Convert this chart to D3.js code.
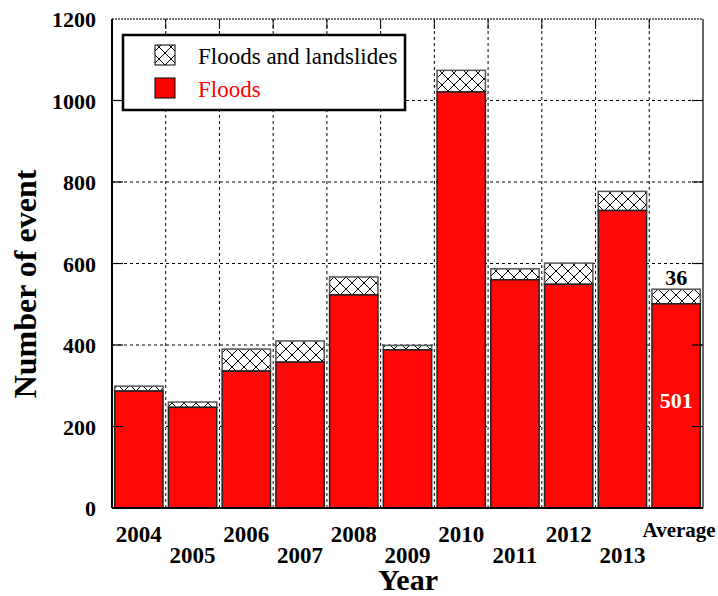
<!DOCTYPE html>
<html>
<head>
<meta charset="utf-8">
<script src="https://cdn.jsdelivr.net/npm/d3@7"></script>
<style>
  body { margin: 0; background: #fff; }
  text { font-family: "Liberation Serif", "Times New Roman", serif; }
</style>
</head>
<body>
<div id="chart"></div>
<script>
// Data
const years = ['2004', '2005', '2006', '2007', '2008', '2009', '2010', '2011', '2012', '2013', 'Average'];
const floods = [287, 247, 336, 358, 523, 388, 1021, 560, 549, 730, 501];
const floodsLandslides = [12, 13, 54, 52, 44, 11, 53, 27, 52, 47, 36];
const yTicks = [0, 200, 400, 600, 800, 1000, 1200];

const margin = { top: 19, right: 15, bottom: 88, left: 112 };
const width = 718 - margin.left - margin.right;
const height = 596 - margin.top - margin.bottom;

const svg = d3.select('#chart').append('svg')
    .attr('width', 718)
    .attr('height', 596);

// cross hatch pattern
const defs = svg.append('defs');
const pat = defs.append('pattern')
    .attr('id', 'hatch')
    .attr('patternUnits', 'userSpaceOnUse')
    .attr('width', 12)
    .attr('height', 12);
pat.append('rect').attr('width', 12).attr('height', 12).attr('fill', '#fff');
pat.append('path')
    .attr('d', 'M0,0L12,12M12,0L0,12')
    .attr('stroke', '#000')
    .attr('stroke-width', 1);

const g = svg.append('g')
    .attr('transform', `translate(${margin.left},${margin.top})`);

const xScale = d3.scaleBand()
    .domain(years)
    .range([0, width])
    .paddingInner(0.1)
    .paddingOuter(0.05);

const yScale = d3.scaleLinear()
    .domain([0, 1200])
    .range([height, 0]);

// horizontal grid
g.selectAll('.hgrid')
    .data(yTicks.slice(1, -1))
    .enter()
    .append('line')
    .attr('x1', 0)
    .attr('x2', width)
    .attr('y1', d => yScale(d))
    .attr('y2', d => yScale(d))
    .attr('stroke', '#000')
    .attr('stroke-dasharray', '3,3');

// vertical grid between bars
const step = xScale.step();
const bounds = years.slice(1).map(d => xScale(d) - step * xScale.paddingInner() / 2);
g.selectAll('.vgrid')
    .data(bounds)
    .enter()
    .append('line')
    .attr('x1', d => d)
    .attr('x2', d => d)
    .attr('y1', 0)
    .attr('y2', height)
    .attr('stroke', '#000')
    .attr('stroke-dasharray', '3,3');

// top ticks at band boundaries
g.selectAll('.ttick')
    .data(bounds)
    .enter()
    .append('line')
    .attr('x1', d => d)
    .attr('x2', d => d)
    .attr('y1', 0)
    .attr('y2', 10)
    .attr('stroke', '#000');

// bars
const bars = g.selectAll('.bar')
    .data(years.map((y, i) => ({ year: y, floods: floods[i], fl: floodsLandslides[i] })))
    .enter()
    .append('g');

bars.append('rect')
    .attr('x', d => xScale(d.year))
    .attr('y', d => yScale(d.floods + d.fl))
    .attr('width', xScale.bandwidth())
    .attr('height', d => yScale(d.floods) - yScale(d.floods + d.fl))
    .attr('fill', 'url(#hatch)')
    .attr('stroke', '#555')
    .attr('stroke-width', 1.5);

bars.append('rect')
    .attr('x', d => xScale(d.year))
    .attr('y', d => yScale(d.floods))
    .attr('width', xScale.bandwidth())
    .attr('height', d => height - yScale(d.floods))
    .attr('fill', '#fe0808')
    .attr('stroke', '#222')
    .attr('stroke-width', 1.5);

// frame
g.append('line').attr('x1', 0).attr('x2', width).attr('y1', 0).attr('y2', 0)
    .attr('stroke', '#444').attr('stroke-width', 1.5).attr('stroke-dasharray', '2,1');
g.append('line').attr('x1', 0).attr('x2', 0).attr('y1', 0).attr('y2', height)
    .attr('stroke', '#000').attr('stroke-width', 2);
g.append('line').attr('x1', width).attr('x2', width).attr('y1', 0).attr('y2', height)
    .attr('stroke', '#333').attr('stroke-width', 1.5);
g.append('line').attr('x1', 0).attr('x2', width).attr('y1', height).attr('y2', height)
    .attr('stroke', '#000').attr('stroke-width', 2);

// left and right ticks
g.selectAll('.ltick')
    .data(yTicks.slice(1, -1))
    .enter()
    .append('line')
    .attr('x1', 0).attr('x2', 11)
    .attr('y1', d => yScale(d)).attr('y2', d => yScale(d))
    .attr('stroke', '#000').attr('stroke-width', 1.2);
g.selectAll('.rtick')
    .data(yTicks.slice(1, -1))
    .enter()
    .append('line')
    .attr('x1', width - 11).attr('x2', width)
    .attr('y1', d => yScale(d)).attr('y2', d => yScale(d))
    .attr('stroke', '#000').attr('stroke-width', 1.2);

// y tick labels
g.selectAll('.ylab')
    .data(yTicks)
    .enter()
    .append('text')
    .attr('x', -16)
    .attr('y', d => yScale(d) + 8)
    .attr('text-anchor', 'end')
    .style('font-size', '22px')
    .style('font-weight', 'bold')
    .text(d => d);

// x tick labels, staggered
g.selectAll('.xlab')
    .data(years)
    .enter()
    .append('text')
    .attr('x', d => xScale(d) + xScale.bandwidth() / 2 + (d === 'Average' ? 3 : 0))
    .attr('y', (d, i) => d === 'Average' ? height + 29 : height + (i % 2 === 0 ? 34 : 55))
    .attr('text-anchor', 'middle')
    .style('font-size', d => d === 'Average' ? '21px' : '23px')
    .style('font-weight', 'bold')
    .text(d => d);

// average labels
const avg = 'Average';
const avgI = years.indexOf(avg);
g.append('text')
    .attr('x', xScale(avg) + xScale.bandwidth() / 2)
    .attr('y', yScale(floods[avgI] + floodsLandslides[avgI]) - 4)
    .attr('text-anchor', 'middle')
    .style('font-size', '22px')
    .style('font-weight', 'bold')
    .text(floodsLandslides[avgI]);
g.append('text')
    .attr('x', xScale(avg) + xScale.bandwidth() / 2)
    .attr('y', yScale(floods[avgI] / 2) + 2)
    .attr('text-anchor', 'middle')
    .attr('fill', '#fff')
    .style('font-size', '22px')
    .style('font-weight', 'bold')
    .text(floods[avgI]);

// axis titles
svg.append('text')
    .attr('x', 408)
    .attr('y', 590)
    .attr('text-anchor', 'middle')
    .style('font-size', '30px')
    .style('font-weight', 'bold')
    .text('Year');

svg.append('text')
    .attr('transform', 'rotate(-90)')
    .attr('x', -284)
    .attr('y', 36)
    .attr('text-anchor', 'middle')
    .style('font-size', '32px')
    .style('font-weight', 'bold')
    .text('Number of event');

// legend
const lg = svg.append('g').attr('transform', 'translate(123,35)');
lg.append('rect')
    .attr('width', 282)
    .attr('height', 75)
    .attr('fill', '#fff')
    .attr('stroke', '#000')
    .attr('stroke-width', 2.5);
lg.append('rect')
    .attr('x', 32).attr('y', 10).attr('width', 20).attr('height', 20)
    .attr('fill', 'url(#hatch)').attr('stroke', '#000').attr('stroke-width', 1);
lg.append('text')
    .attr('x', 75).attr('y', 29)
    .style('font-size', '23px')
    .text('Floods and landslides');
lg.append('rect')
    .attr('x', 32).attr('y', 43).attr('width', 20).attr('height', 20)
    .attr('fill', '#ff0000').attr('stroke', '#000').attr('stroke-width', 1);
lg.append('text')
    .attr('x', 75).attr('y', 62)
    .attr('fill', '#ff0000')
    .style('font-size', '23px')
    .text('Floods');
</script>
</body>
</html>
